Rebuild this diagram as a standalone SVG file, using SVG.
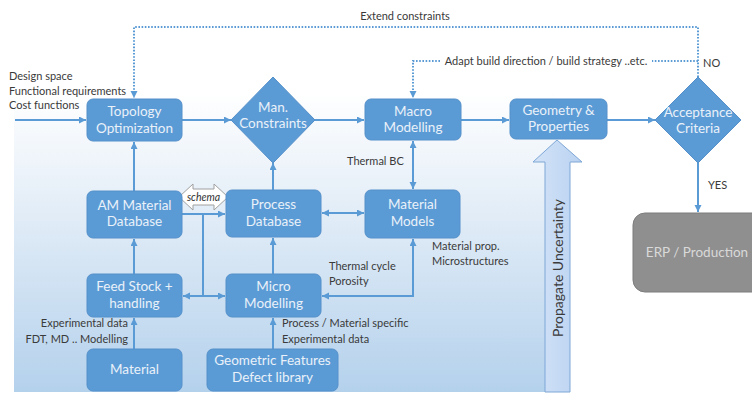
<svg xmlns="http://www.w3.org/2000/svg" width="752" height="393" viewBox="0 0 752 393">
  <defs>
    <linearGradient id="panelGrad" x1="0" y1="0" x2="0" y2="1">
      <stop offset="0" stop-color="#ffffff"/>
      <stop offset="0.35" stop-color="#e6eff8"/>
      <stop offset="1" stop-color="#b4d1ec"/>
    </linearGradient>
    <linearGradient id="propGrad" x1="0" y1="0" x2="1" y2="0">
      <stop offset="0" stop-color="#d3e3f7"/>
      <stop offset="1" stop-color="#b9d2f1"/>
    </linearGradient>
    <marker id="arr" markerUnits="userSpaceOnUse" markerWidth="8" markerHeight="8" refX="7" refY="3.5" orient="auto-start-reverse">
      <path d="M0,0 L7,3.5 L0,7 z" fill="#5b9bd5"/>
    </marker>
    <style>
      .box { fill: #5b9bd5; stroke: #5590ca; stroke-width: 1; }
      .btxt { font-family: Lato, "Liberation Sans", sans-serif; font-size: 13.5px; fill: #eaf1f9; text-anchor: middle; }
      .lbl { font-family: Lato, "Liberation Sans", sans-serif; font-size: 11px; fill: #3a3a3a; }
      .conn { fill: none; stroke: #5b9bd5; stroke-width: 2; }
      .dot { fill: none; stroke: #5b9bd5; stroke-width: 2; stroke-dasharray: 1.6 1.6; }
    </style>
  </defs>

  <rect width="752" height="393" fill="#ffffff"/>

  <!-- shaded process area -->
  <rect x="14" y="92" width="542" height="300" fill="url(#panelGrad)"/>

  <!-- uncertainty arrow -->
  <g id="propagate">
    <polygon points="545,392 545,162 533,162 557,140 582,162 570,162 570,392" fill="url(#propGrad)" stroke="#7ea7d6" stroke-width="1"/>
    <text transform="translate(563,268) rotate(-90)" font-family="Lato, 'Liberation Sans', sans-serif" font-size="14" fill="#3a3a3a" text-anchor="middle">Propagate Uncertainty</text>
  </g>

  <!-- connectors -->
  <g id="connectors">
    <path class="conn" d="M15,120 H86" marker-end="url(#arr)"/>
    <path class="conn" d="M182,120 H231" marker-end="url(#arr)"/>
    <path class="conn" d="M315,120 H364" marker-end="url(#arr)"/>
    <path class="conn" d="M461,120 H509" marker-end="url(#arr)"/>
    <path class="conn" d="M607,120 H655" marker-end="url(#arr)"/>
    <path class="conn" d="M134,191 V142" marker-end="url(#arr)"/>
    <path class="conn" d="M273,190 V163" marker-end="url(#arr)"/>
    <path class="conn" d="M413,141 V189" marker-start="url(#arr)" marker-end="url(#arr)"/>
    <path class="conn" d="M322,213 H364" marker-start="url(#arr)" marker-end="url(#arr)"/>
    <path class="conn" d="M134,274 V239" marker-end="url(#arr)"/>
    <path class="conn" d="M273,274 V238" marker-end="url(#arr)"/>
    <path class="conn" d="M134,349 V318" marker-end="url(#arr)"/>
    <path class="conn" d="M273,349 V318" marker-end="url(#arr)"/>
    <path class="conn" d="M413,239 V296 H322" marker-start="url(#arr)" marker-end="url(#arr)"/>
    <path class="conn" d="M182,214 H225" marker-end="url(#arr)"/>
    <path class="conn" d="M203,214 V296"/>
    <path class="conn" d="M183,296 H225" marker-start="url(#arr)" marker-end="url(#arr)"/>
    <path class="conn" d="M698,163 V212" marker-end="url(#arr)"/>
    <path class="dot" d="M698,77 V27 H134 V98" marker-end="url(#arr)"/>
    <path class="dot" d="M698,61 H652"/>
    <path class="dot" d="M440,61 H413 V98" marker-end="url(#arr)"/>
  </g>

  <!-- schema exchange -->
  <g id="schema">
    <polygon points="179,197 193,184 193,189 214,189 214,184 228,197 214,210 214,205 193,205 193,210" fill="#ffffff" stroke="#a0a0a0" stroke-width="1"/>
    <text x="203.5" y="201" font-family="Lato, 'Liberation Sans', sans-serif" font-size="10.5" font-style="italic" fill="#333" text-anchor="middle">schema</text>
  </g>

  <!-- nodes -->
  <g id="topology">
    <rect class="box" x="87" y="99" width="95" height="42" rx="6"/>
    <text class="btxt" x="134.5" y="116">Topology</text>
    <text class="btxt" x="134.5" y="133">Optimization</text>
  </g>
  <g id="man-constraints">
    <polygon class="box" points="273,77 315,120 273,163 231,120"/>
    <text class="btxt" x="273" y="112">Man.</text>
    <text class="btxt" x="273" y="128">Constraints</text>
  </g>
  <g id="macro-modelling">
    <rect class="box" x="365" y="99" width="96" height="41" rx="6"/>
    <text class="btxt" x="413" y="116">Macro</text>
    <text class="btxt" x="413" y="132">Modelling</text>
  </g>
  <g id="geometry-properties">
    <rect class="box" x="510" y="99" width="97" height="40" rx="6"/>
    <text class="btxt" x="558.5" y="115">Geometry &amp;</text>
    <text class="btxt" x="558.5" y="131">Properties</text>
  </g>
  <g id="acceptance">
    <polygon class="box" points="698,77 741,120 698,163 655,120"/>
    <text class="btxt" x="698" y="117">Acceptance</text>
    <text class="btxt" x="698" y="133">Criteria</text>
  </g>
  <g id="erp">
    <rect x="633" y="213" width="135" height="79" rx="12" fill="#8f8f8f" stroke="#7d7d7d" stroke-width="1"/>
    <text x="697" y="257" font-family="Lato, 'Liberation Sans', sans-serif" font-size="13.5" fill="#d9d9d9" text-anchor="middle">ERP / Production</text>
  </g>
  <g id="am-material-db">
    <rect class="box" x="87" y="191" width="95" height="47" rx="6"/>
    <text class="btxt" x="134.5" y="210">AM Material</text>
    <text class="btxt" x="134.5" y="226">Database</text>
  </g>
  <g id="process-db">
    <rect class="box" x="226" y="190" width="95" height="47" rx="6"/>
    <text class="btxt" x="273.5" y="209">Process</text>
    <text class="btxt" x="273.5" y="226">Database</text>
  </g>
  <g id="material-models">
    <rect class="box" x="365" y="190" width="95" height="48" rx="6"/>
    <text class="btxt" x="412.5" y="209">Material</text>
    <text class="btxt" x="412.5" y="226">Models</text>
  </g>
  <g id="feed-stock">
    <rect class="box" x="87" y="274" width="95" height="43" rx="6"/>
    <text class="btxt" x="134.5" y="291">Feed Stock +</text>
    <text class="btxt" x="134.5" y="308">handling</text>
  </g>
  <g id="micro-modelling">
    <rect class="box" x="226" y="274" width="95" height="43" rx="6"/>
    <text class="btxt" x="273.5" y="291">Micro</text>
    <text class="btxt" x="273.5" y="308">Modelling</text>
  </g>
  <g id="material">
    <rect class="box" x="87" y="349" width="95" height="42" rx="6"/>
    <text class="btxt" x="134.5" y="374">Material</text>
  </g>
  <g id="geometric-features">
    <rect class="box" x="207" y="349" width="131" height="42" rx="6"/>
    <text class="btxt" x="272.5" y="365">Geometric Features</text>
    <text class="btxt" x="272.5" y="382">Defect library</text>
  </g>

  <!-- annotations -->
  <g id="labels">
    <text class="lbl" x="9" y="80">Design space</text>
    <text class="lbl" x="9" y="95">Functional requirements</text>
    <text class="lbl" x="9" y="109">Cost functions</text>
    <text class="lbl" x="405" y="20" text-anchor="middle">Extend constraints</text>
    <text class="lbl" x="546" y="65" text-anchor="middle">Adapt build direction / build strategy ..etc.</text>
    <text class="lbl" x="703" y="67">NO</text>
    <text class="lbl" x="708" y="189">YES</text>
    <text class="lbl" x="347" y="165">Thermal BC</text>
    <text class="lbl" x="329" y="270">Thermal cycle</text>
    <text class="lbl" x="329" y="285">Porosity</text>
    <text class="lbl" x="432" y="250">Material prop.</text>
    <text class="lbl" x="432" y="265">Microstructures</text>
    <text class="lbl" x="128" y="327" text-anchor="end">Experimental data</text>
    <text class="lbl" x="128" y="343" text-anchor="end">FDT, MD .. Modelling</text>
    <text class="lbl" x="282" y="327">Process / Material specific</text>
    <text class="lbl" x="282" y="343">Experimental data</text>
  </g>
</svg>
